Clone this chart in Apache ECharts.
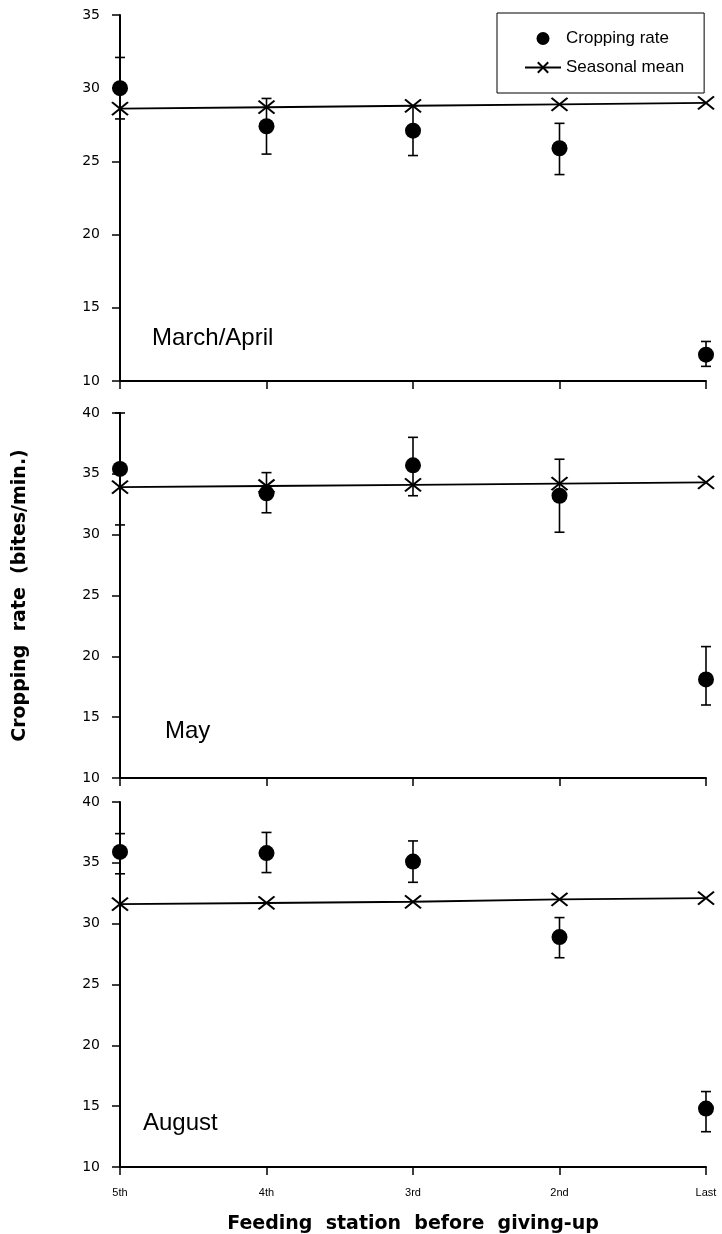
<!DOCTYPE html>
<html>
<head>
<meta charset="utf-8">
<script src="https://cdn.jsdelivr.net/npm/echarts@6/dist/echarts.min.js"></script>
<style>
  html, body { margin: 0; padding: 0; background: #fff; }
  #main { width: 722px; height: 1234px; }
</style>
</head>
<body>
<div id="main"></div>
<script>
var categories = ['5th', '4th', '3rd', '2nd', 'Last'];

// March/April
var marchRate = [30.0, 27.4, 27.1, 25.9, 11.8];
var marchLow = [27.9, 25.5, 25.4, 24.1, 11.0];
var marchHigh = [32.1, 29.3, 28.8, 27.6, 12.7];
var marchMean = [28.6, 28.7, 28.8, 28.9, 29.0];

// May
var mayRate = [35.4, 33.4, 35.7, 33.2, 18.1];
var mayLow = [30.8, 31.8, 33.2, 30.2, 16.0];
var mayHigh = [40.0, 35.1, 38.0, 36.2, 20.8];
var mayMean = [33.9, 34.0, 34.1, 34.2, 34.3];

// August
var augRate = [35.9, 35.8, 35.1, 28.9, 14.8];
var augLow = [34.1, 34.2, 33.4, 27.2, 12.9];
var augHigh = [37.4, 37.5, 36.8, 30.5, 16.2];
var augMean = [31.6, 31.7, 31.8, 32.0, 32.1];

var yMax = [35, 40, 40];
var panelNames = ['March/April', 'May', 'August'];

(function () {
  var chart = echarts.init(document.getElementById('main'));
  var font = 'Liberation Sans, Arial, sans-serif';
  var crossSymbol = 'path://M0,0L16,13M16,0L0,13';

  var grids = [
    { left: 120, top: 15, width: 586, height: 366, outerBoundsMode: 'none' },
    { left: 120, top: 413, width: 586, height: 365, outerBoundsMode: 'none' },
    { left: 120, top: 802, width: 586, height: 365, outerBoundsMode: 'none' }
  ];

  function errData(low, high) {
    var out = [];
    for (var i = 0; i < low.length; i++) out.push([i, low[i], high[i]]);
    return out;
  }

  function renderErr(params, api) {
    var lo = api.coord([api.value(0), api.value(1)]);
    var hi = api.coord([api.value(0), api.value(2)]);
    var w = 5;
    var st = { stroke: '#000', lineWidth: 1.6 };
    return {
      type: 'group',
      children: [
        { type: 'line', shape: { x1: lo[0], y1: lo[1], x2: hi[0], y2: hi[1] }, style: st },
        { type: 'line', shape: { x1: lo[0] - w, y1: lo[1], x2: lo[0] + w, y2: lo[1] }, style: st },
        { type: 'line', shape: { x1: hi[0] - w, y1: hi[1], x2: hi[0] + w, y2: hi[1] }, style: st }
      ]
    };
  }

  var xAxes = [], yAxes = [], series = [];
  var rates = [marchRate, mayRate, augRate];
  var lows = [marchLow, mayLow, augLow];
  var highs = [marchHigh, mayHigh, augHigh];
  var means = [marchMean, mayMean, augMean];

  for (var p = 0; p < 3; p++) {
    xAxes.push({
      type: 'category',
      gridIndex: p,
      data: categories,
      boundaryGap: false,
      axisLine: { lineStyle: { color: '#000', width: 2 } },
      axisTick: { show: true, length: 8, lineStyle: { color: '#000', width: 1.5 } },
      axisLabel: {
        show: p === 2, color: '#000', fontSize: 11, fontFamily: font, margin: 20
      },
      splitLine: { show: false },
      name: p === 2 ? 'Feeding  station  before  giving-up' : '',
      nameLocation: 'middle',
      nameGap: 48,
      nameTextStyle: { color: '#000', fontSize: 19, fontWeight: 'bold', fontFamily: 'DejaVu Sans' }
    });
    yAxes.push({
      type: 'value',
      gridIndex: p,
      min: 10,
      max: yMax[p],
      interval: 5,
      axisLine: { show: true, lineStyle: { color: '#000', width: 2 } },
      axisTick: { show: true, length: 8, lineStyle: { color: '#000', width: 1.5 } },
      axisLabel: { color: '#000', fontSize: 14, fontFamily: 'DejaVu Sans', margin: 20 },
      splitLine: { show: false },
      name: p === 1 ? 'Cropping  rate  (bites/min.)' : '',
      nameLocation: 'middle',
      nameGap: 90,
      nameTextStyle: { color: '#000', fontSize: 19, fontWeight: 'bold', fontFamily: 'DejaVu Sans' }
    });

    series.push({
      name: 'Seasonal mean',
      type: 'line',
      xAxisIndex: p,
      yAxisIndex: p,
      data: means[p],
      symbol: crossSymbol,
      symbolSize: [16, 13],
      lineStyle: { color: '#000', width: 1.8 },
      itemStyle: { color: '#000', borderColor: '#000', borderWidth: 2 },
      z: 3
    });
    series.push({
      name: 'Cropping rate',
      type: 'scatter',
      xAxisIndex: p,
      yAxisIndex: p,
      data: rates[p],
      symbol: 'circle',
      symbolSize: 16,
      itemStyle: { color: '#000', opacity: 1 },
      z: 5
    });
    series.push({
      name: 'Cropping rate',
      type: 'custom',
      xAxisIndex: p,
      yAxisIndex: p,
      data: errData(lows[p], highs[p]),
      renderItem: renderErr,
      itemStyle: { color: '#000' },
      encode: { x: 0, y: [1, 2] },
      z: 4
    });
  }

  var option = {
    backgroundColor: '#fff',
    animation: false,
    grid: grids,
    xAxis: xAxes,
    yAxis: yAxes,
    legend: {
      orient: 'vertical',
      left: 497,
      top: 13,
      borderColor: '#000',
      borderWidth: 1,
      padding: [17, 20, 17, 27],
      itemWidth: 36,
      itemHeight: 13,
      itemGap: 12,
      textStyle: { color: '#000', fontSize: 17, fontFamily: font },
      data: [
        { name: 'Cropping rate', icon: 'circle', itemStyle: { color: '#000', opacity: 1 } },
        { name: 'Seasonal mean' }
      ]
    },
    graphic: [
      { type: 'text', left: 152, top: 326, style: { text: panelNames[0], font: '24px ' + font, fill: '#000' } },
      { type: 'text', left: 165, top: 719, style: { text: panelNames[1], font: '24px ' + font, fill: '#000' } },
      { type: 'text', left: 143, top: 1111, style: { text: panelNames[2], font: '24px ' + font, fill: '#000' } }
    ],
    series: series
  };

  chart.setOption(option);
  window.addEventListener('resize', function () { chart.resize(); });
})();
</script>
</body>
</html>
